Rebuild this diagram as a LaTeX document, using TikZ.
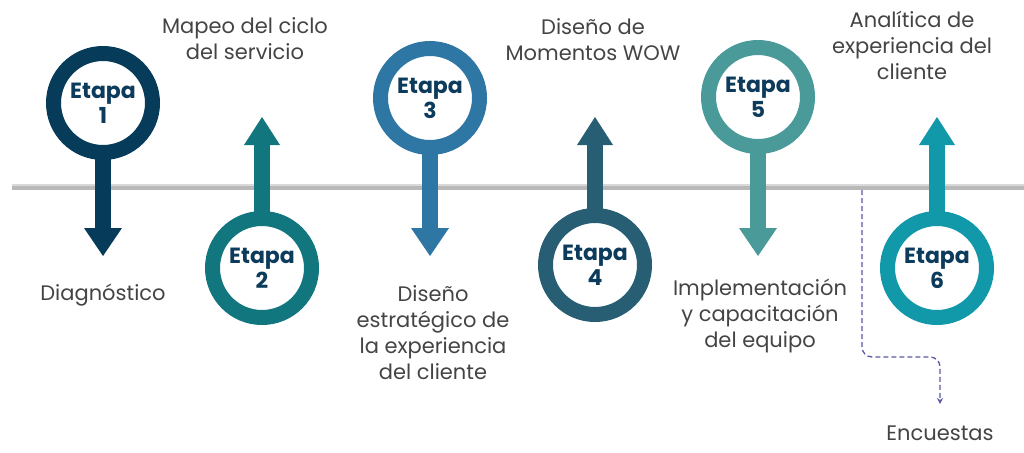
\documentclass[tikz,border=0pt]{standalone}
\usepackage{fontspec}
\setmainfont{Poppins}
\usetikzlibrary{arrows.meta,shadows}
\definecolor{cA}{HTML}{073B5A}\definecolor{cB}{HTML}{12767E}\definecolor{cC}{HTML}{2E77A5}
\definecolor{cD}{HTML}{285E73}\definecolor{cE}{HTML}{4A9A9A}\definecolor{cF}{HTML}{1299A9}
\definecolor{ttxt}{HTML}{0D3B5B}\definecolor{lbl}{HTML}{444444}
\tikzset{ring/.style={circle,draw=#1,line width=15pt,fill=white,minimum size=99pt,inner sep=0pt,align=center,font=\bfseries\fontsize{22}{25}\selectfont,text=ttxt,drop shadow={opacity=0.15,shadow xshift=2pt,shadow yshift=-3pt}},
lab/.style={align=center,text=lbl,font=\fontsize{21}{26}\selectfont},
stem/.style={draw=#1,line width=16pt}}
\begin{document}
\begin{tikzpicture}[x=1pt,y=-1pt]
\useasboundingbox (0,0) rectangle (1024,452);
\draw[line width=6pt,color=gray!55] (12,187) -- (1024,187);
\draw[line width=2pt,color=gray!30] (12,185) -- (1024,185);
\foreach \x/\c/\cy in {103/cA/103,430/cC/98,758/cE/97}{
 \draw[stem=\c] (\x,\cy) -- (\x,228);
 \fill[\c] (\x-19,228) -- (\x+19,228) -- (\x,256) -- cycle;}
\foreach \x/\c/\cy in {262/cB/268,595/cD/265,937/cF/268}{
 \draw[stem=\c] (\x,\cy) -- (\x,144);
 \fill[\c] (\x-18,145) -- (\x+18,145) -- (\x,117) -- cycle;}
\node[ring=cA] (e1) at (103,103) {Etapa\\1};
\node[ring=cB] (e2) at (262,268) {Etapa\\2};
\node[ring=cC] (e3) at (430,98) {Etapa\\3};
\node[ring=cD] (e4) at (595,265) {Etapa\\4};
\node[ring=cE] (e5) at (758,97) {Etapa\\5};
\node[ring=cF] (e6) at (937,268) {Etapa\\6};
\node[lab] (l1) at (103,295) {Diagnóstico};
\node[lab] (l2) at (245,39) {Mapeo del ciclo\\del servicio};
\node[lab] (l3) at (433,333) {Diseño\\estratégico de\\la experiencia\\del cliente};
\node[lab] (l4) at (593,40) {Diseño de\\Momentos WOW};
\node[lab] (l5) at (760,316) {Implementación\\y capacitación\\del equipo};
\node[lab] (l6) at (912,45) {Analítica de\\experiencia del\\cliente};
\node[lab] (l7) at (940,433) {Encuestas};
\coordinate (d0) at (862,190);
\coordinate (d1) at (940,404);
\draw[dash pattern=on 5pt off 3pt,color=gray!70!blue,line width=1.3pt,rounded corners=10pt,-{Stealth[length=6pt,width=6pt]}] (d0) -- (862,357) -- (940,357) -- (d1);
\end{tikzpicture}
\end{document}
